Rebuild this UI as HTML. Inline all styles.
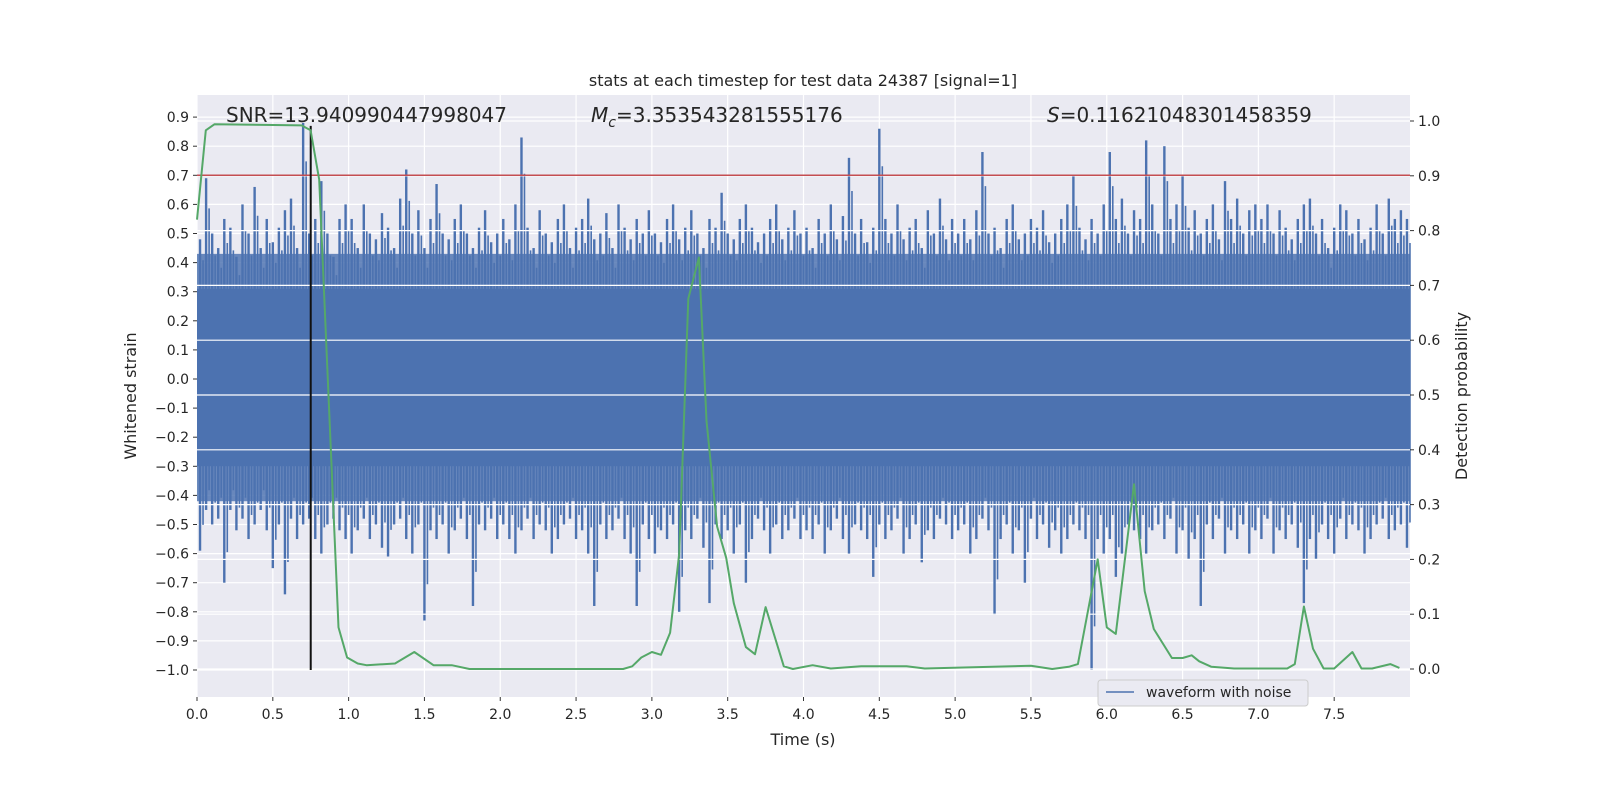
<!DOCTYPE html>
<html><head><meta charset="utf-8"><style>
html,body{margin:0;padding:0;background:#fff;}
svg{display:block;font-family:"DejaVu Sans","Liberation Sans",sans-serif;}
</style></head><body>
<svg id="chart" width="1600" height="800" viewBox="0 0 1600 800" xmlns="http://www.w3.org/2000/svg">
<rect x="0" y="0" width="1600" height="800" fill="#fff"/>
<rect x="197" y="95" width="1213" height="602" fill="#EAEAF2"/>
<g id="gx"></g><g id="wave"></g><g id="gr"></g><g id="over"></g><g id="axes"></g>
<text x="803" y="86" font-size="16" text-anchor="middle" fill="#262626">stats at each timestep for test data 24387 [signal=1]</text>
<text x="226" y="122" font-size="20" fill="#262626">SNR=13.940990447998047</text>
<text x="591" y="122" font-size="20" fill="#262626"><tspan font-style="italic">M</tspan><tspan font-style="italic" font-size="14" dy="5">c</tspan><tspan dy="-5">=3.353543281555176</tspan></text>
<text x="1047" y="122" font-size="20" fill="#262626"><tspan font-style="italic">S</tspan>=0.11621048301458359</text>
<text x="803" y="745" font-size="16" text-anchor="middle" fill="#262626">Time (s)</text>
<text transform="translate(136,396) rotate(-90)" font-size="16" text-anchor="middle" fill="#262626">Whitened strain</text>
<text transform="translate(1467,396) rotate(-90)" font-size="16" text-anchor="middle" fill="#262626">Detection probability</text>
<g>
<rect x="1098" y="680" width="210" height="26" rx="3" fill="#EAEAF2" stroke="#ccc"/>
<line x1="1106" y1="692" x2="1134" y2="692" stroke="#4C72B0" stroke-width="1.5"/>
<text x="1146" y="697" font-size="14" fill="#262626">waveform with noise</text>
</g>
</svg>
<script>
const upper=[0.48,0.69,0.5,0.45,0.55,0.52,0.42,0.6,0.5,0.66,0.45,0.55,0.47,0.52,0.58,0.62,0.45,0.88,0.5,0.55,0.68,0.5,0.42,0.55,0.6,
0.55,0.45,0.6,0.5,0.48,0.57,0.52,0.45,0.62,0.72,0.5,0.58,0.45,0.55,0.67,0.5,0.48,0.55,0.6,0.5,0.45,0.52,0.58,0.47,0.5,
0.55,0.48,0.6,0.83,0.52,0.45,0.58,0.5,0.47,0.55,0.6,0.45,0.52,0.55,0.62,0.48,0.5,0.57,0.45,0.6,0.52,0.48,0.55,0.5,0.58,
0.5,0.47,0.55,0.6,0.48,0.52,0.58,0.5,0.45,0.55,0.52,0.64,0.5,0.48,0.55,0.6,0.52,0.47,0.5,0.55,0.6,0.48,0.52,0.58,0.5,
0.52,0.45,0.55,0.5,0.6,0.48,0.56,0.76,0.5,0.55,0.47,0.52,0.86,0.55,0.5,0.6,0.48,0.52,0.55,0.45,0.58,0.5,0.62,0.48,0.55,
0.5,0.55,0.48,0.58,0.78,0.5,0.52,0.45,0.55,0.6,0.48,0.5,0.55,0.52,0.58,0.47,0.5,0.55,0.6,0.7,0.52,0.48,0.55,0.5,0.6,
0.78,0.55,0.62,0.5,0.58,0.55,0.82,0.6,0.5,0.8,0.55,0.6,0.7,0.52,0.58,0.5,0.55,0.6,0.48,0.68,0.55,0.62,0.5,0.58,0.6,
0.55,0.6,0.5,0.58,0.52,0.48,0.55,0.6,0.62,0.5,0.55,0.45,0.52,0.6,0.58,0.5,0.55,0.48,0.52,0.6,0.5,0.62,0.55,0.58,0.55];
const lower=[-0.59,-0.45,-0.5,-0.48,-0.7,-0.45,-0.52,-0.48,-0.55,-0.5,-0.45,-0.52,-0.65,-0.5,-0.74,-0.48,-0.55,-0.5,-0.48,-0.55,-0.6,-0.5,-0.48,-0.52,-0.55,
-0.6,-0.52,-0.48,-0.55,-0.5,-0.58,-0.61,-0.5,-0.48,-0.55,-0.6,-0.5,-0.83,-0.52,-0.55,-0.5,-0.6,-0.52,-0.48,-0.55,-0.78,-0.5,-0.52,-0.48,-0.55,
-0.5,-0.55,-0.6,-0.52,-0.48,-0.55,-0.5,-0.52,-0.6,-0.55,-0.5,-0.48,-0.55,-0.52,-0.6,-0.78,-0.5,-0.55,-0.52,-0.48,-0.55,-0.6,-0.78,-0.5,-0.55,
-0.6,-0.52,-0.55,-0.5,-0.8,-0.52,-0.55,-0.48,-0.58,-0.77,-0.5,-0.55,-0.52,-0.6,-0.5,-0.7,-0.55,-0.48,-0.52,-0.6,-0.5,-0.55,-0.52,-0.48,-0.55,
-0.52,-0.55,-0.5,-0.6,-0.52,-0.48,-0.55,-0.6,-0.5,-0.52,-0.55,-0.68,-0.5,-0.55,-0.52,-0.48,-0.6,-0.55,-0.5,-0.63,-0.52,-0.55,-0.48,-0.5,-0.55,
-0.52,-0.5,-0.6,-0.55,-0.48,-0.52,-0.81,-0.55,-0.5,-0.6,-0.52,-0.7,-0.48,-0.55,-0.5,-0.58,-0.52,-0.6,-0.55,-0.5,-0.52,-0.55,-1.0,-0.55,-0.6,
-0.55,-0.68,-0.6,-0.5,-0.52,-0.55,-0.6,-0.52,-0.5,-0.55,-0.48,-0.6,-0.52,-0.62,-0.55,-0.78,-0.5,-0.55,-0.48,-0.6,-0.52,-0.55,-0.5,-0.6,-0.52,
-0.55,-0.48,-0.6,-0.52,-0.55,-0.5,-0.58,-0.77,-0.55,-0.62,-0.5,-0.55,-0.6,-0.48,-0.55,-0.5,-0.52,-0.6,-0.55,-0.5,-0.48,-0.55,-0.52,-0.5,-0.58];
const sampleStep=0.04;
const coreBand=[-0.3,0.31];
const denseBand=[-0.42,0.43];
const probT=[0,0.058,0.115,0.69,0.749,0.806,0.933,0.99,1.06,1.118,1.306,1.433,1.56,1.68,1.797,2.81,2.87,2.93,3.0,3.06,3.12,3.18,3.24,3.31,3.36,3.43,3.49,3.54,3.62,3.68,3.75,3.87,3.93,4.06,4.18,4.38,4.68,4.8,5.5,5.64,5.75,5.81,5.94,6.0,6.06,6.13,6.18,6.25,6.31,6.43,6.5,6.56,6.61,6.69,6.84,7.0,7.19,7.24,7.3,7.36,7.43,7.5,7.62,7.68,7.75,7.87,7.93];
const probV=[0.82,0.983,0.994,0.992,0.983,0.893,0.076,0.021,0.01,0.007,0.01,0.031,0.007,0.007,0.0,0.0,0.005,0.021,0.031,0.026,0.066,0.21,0.676,0.751,0.453,0.26,0.203,0.12,0.04,0.027,0.113,0.005,0.0,0.007,0.001,0.005,0.005,0.001,0.006,0.0,0.004,0.009,0.2,0.076,0.064,0.224,0.337,0.142,0.073,0.02,0.02,0.025,0.014,0.004,0.001,0.001,0.001,0.009,0.114,0.037,0.001,0.001,0.031,0.001,0.001,0.009,0.002];
const xTicks=[0,0.5,1,1.5,2,2.5,3,3.5,4,4.5,5,5.5,6,6.5,7,7.5];
const yTicks=[0.9,0.8,0.7,0.6,0.5,0.4,0.3,0.2,0.1,0,-0.1,-0.2,-0.3,-0.4,-0.5,-0.6,-0.7,-0.8,-0.9,-1.0];
const y2Ticks=[0,0.1,0.2,0.3,0.4,0.5,0.6,0.7,0.8,0.9,1.0];
const threshold=0.7, markerT=0.75, markerTop=0.87;

const NS='http://www.w3.org/2000/svg';
const X0=197,X1=1410,Y0=95,Y1=697;
const xs=t=>X0+(t-0)/(8-0)*(X1-X0);
const ys=v=>379-v*291;
const ys2=p=>669-p*548;
function mk(tag,attrs,parent){const e=document.createElementNS(NS,tag);for(const k in attrs)e.setAttribute(k,attrs[k]);parent.appendChild(e);return e;}
const gx=document.getElementById('gx'),wave=document.getElementById('wave'),gr=document.getElementById('gr'),over=document.getElementById('over'),axes=document.getElementById('axes');
xTicks.forEach(t=>{const l=mk('line',{x1:xs(t),x2:xs(t),y1:Y0,y2:Y1,stroke:'#fff','stroke-width':1.2},gx);

mk('line',{x1:xs(t),x2:xs(t),y1:Y1,y2:Y1+4,stroke:'#333','stroke-width':1},axes);
const tx=mk('text',{x:xs(t),y:Y1+22,'font-size':14,'text-anchor':'middle',fill:'#262626'},axes);tx.textContent=t.toFixed(1);
});
yTicks.forEach(v=>{const l=mk('line',{x1:X0,x2:X1,y1:ys(v),y2:ys(v),stroke:'#fff','stroke-width':1.2},gx);

mk('line',{x1:X0-4,x2:X0,y1:ys(v),y2:ys(v),stroke:'#333','stroke-width':1},axes);
const tx=mk('text',{x:X0-8,y:ys(v)+5,'font-size':14,'text-anchor':'end',fill:'#262626'},axes);tx.textContent=(v<0?'\u2212'+Math.abs(v).toFixed(1):v.toFixed(1));
});
// waveform
const dense=mk('rect',{x:X0,y:ys(denseBand[1]),width:X1-X0,height:ys(denseBand[0])-ys(denseBand[1]),fill:'#4C72B0','fill-opacity':0.82},wave);

const band=mk('rect',{x:X0,y:ys(coreBand[1]),width:X1-X0,height:ys(coreBand[0])-ys(coreBand[1]),fill:'#4C72B0'},wave);

upper.forEach((u,i)=>{const x=xs(i*sampleStep+0.02);const lo=lower[i];
const b=mk('rect',{x:x-1.2,y:ys(u),width:2.4,height:ys(lo)-ys(u),fill:'#4C72B0'},wave);

const s=mk('line',{x1:x+3,x2:x+3,y1:ys(u*0.85),y2:ys(lo*0.85),stroke:'#4C72B0','stroke-width':1.6},wave);
});
// right grid
y2Ticks.forEach(p=>{const l=mk('line',{x1:X0,x2:X1,y1:ys2(p),y2:ys2(p),stroke:'#fff','stroke-width':1.2},gr);

mk('line',{x1:X1,x2:X1+4,y1:ys2(p),y2:ys2(p),stroke:'#333','stroke-width':1},axes);
const tx=mk('text',{x:X1+8,y:ys2(p)+5,'font-size':14,fill:'#262626'},axes);tx.textContent=p.toFixed(1);
});
const th=mk('line',{x1:X0,x2:X1,y1:ys(threshold),y2:ys(threshold),stroke:'#C44E52','stroke-width':1.5},over);

const mkr=mk('line',{x1:xs(markerT),x2:xs(markerT),y1:ys(markerTop),y2:ys(-1.0),stroke:'#111','stroke-width':2},over);

const pts=probT.map((t,i)=>xs(t).toFixed(1)+','+ys2(probV[i]).toFixed(1)).join(' ');
const pl=mk('polyline',{points:pts,fill:'none',stroke:'#55A868','stroke-width':2,'stroke-linejoin':'round'},over);

</script>
</body></html>
